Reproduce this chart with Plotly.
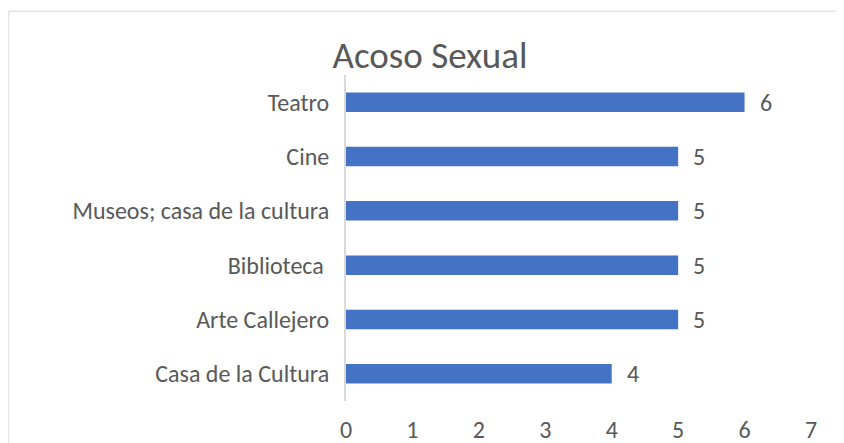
import plotly.graph_objects as go

# Datos (de abajo hacia arriba, como en el gráfico)
categorias = ["Casa de la Cultura", "Arte Callejero", "Biblioteca ",
              "Museos; casa de la cultura", "Cine", "Teatro"]
valores = [4, 5, 5, 5, 5, 6]
ticks_x = [0, 1, 2, 3, 4, 5, 6, 7]

FUENTE = "Calibri, Carlito, Lato, sans-serif"
GRIS = "#595959"

# la página añade 8 px de margen al cuerpo: se compensa en el tamaño
W, H = 836, 435

fig = go.Figure()

fig.add_trace(go.Bar(
    x=valores, y=categorias, orientation="h",
    marker=dict(color="#4472C4", line=dict(width=0)),
    width=0.36,
    hoverinfo="x+y",
))

# etiquetas de datos
for v, c in zip(valores, categorias):
    fig.add_annotation(x=v, y=c, text=str(v), showarrow=False,
                       xanchor="left", xshift=13,
                       font=dict(family=FUENTE, size=24, color=GRIS))

# marco del área del gráfico
fig.add_shape(type="rect", xref="paper", yref="paper",
              x0=-0.725, x1=1.2, y0=-0.3, y1=1.196,
              line=dict(color="#D9D9D9", width=1), layer="below")

fig.update_layout(
    width=W, height=H,
    margin=dict(l=338, r=33, t=67, b=42, autoexpand=False),
    paper_bgcolor="white", plot_bgcolor="white",
    showlegend=False,
    title=dict(text="Acoso Sexual", x=422 / W, xref="container", xanchor="center",
               y=1 - 47 / H, yref="container", yanchor="middle",
               font=dict(family=FUENTE, size=37, color=GRIS)),
    xaxis=dict(range=[0, 7], tickvals=ticks_x, showgrid=False, zeroline=False,
               showline=False, ticks="", ticklabelstandoff=12, automargin=False,
               tickfont=dict(family=FUENTE, size=24, color=GRIS)),
    yaxis=dict(range=[-0.5, 5.5], showgrid=False, zeroline=False,
               showline=True, linecolor="#D9D9D9", linewidth=2,
               ticks="", ticklabelstandoff=10, automargin=False,
               tickfont=dict(family=FUENTE, size=24, color=GRIS)),
)

fig.write_html("out.html")
